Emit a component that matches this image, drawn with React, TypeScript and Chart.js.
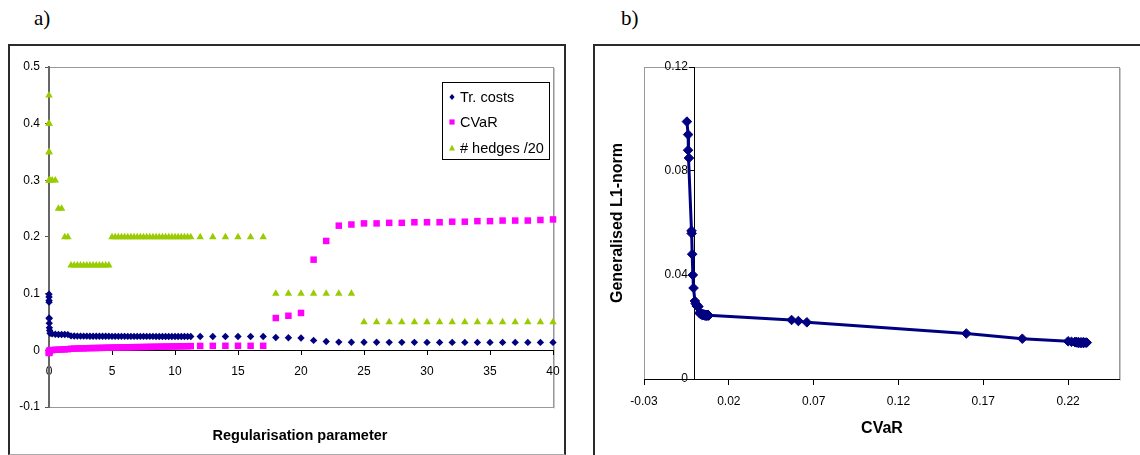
import React, { useEffect, useRef } from "react";
import { Chart, registerables } from "chart.js";
Chart.register(...registerables);

const FONT = "'Liberation Sans', Arial, sans-serif";

// Regularisation path (one entry per solved problem)
const regParam = [
  0, 0.002, 0.004, 0.006, 0.01, 0.015, 0.02, 0.03, 0.05, 0.08,
  0.25, 0.5, 0.75, 1, 1.25, 1.5,
  1.75, 2, 2.25, 2.5, 2.75, 3, 3.25, 3.5, 3.75, 4, 4.25, 4.5, 4.75,
  5, 5.25, 5.5, 5.75, 6, 6.25, 6.5, 6.75, 7, 7.25, 7.5, 7.75, 8, 8.25, 8.5, 8.75,
  9, 9.25, 9.5, 9.75, 10, 10.25, 10.5, 10.75, 11, 11.25,
  12, 13, 14, 15, 16, 17,
  18, 19, 20, 21, 22, 23, 24, 25, 26, 27, 28, 29, 30, 31, 32, 33, 34, 35, 36, 37, 38, 39, 40,
];

const trCosts = [
  0.099, 0.094, 0.088, 0.085, 0.057, 0.056, 0.048, 0.04, 0.035, 0.03,
  0.029, 0.0285, 0.028, 0.028, 0.028, 0.0278,
  0.0255, 0.0252, 0.0251, 0.025, 0.025, 0.025, 0.0249, 0.0249, 0.0249, 0.0248, 0.0248, 0.0248, 0.0248,
  0.0247, 0.0247, 0.0247, 0.0247, 0.0247, 0.0246, 0.0246, 0.0246, 0.0246, 0.0246, 0.0246, 0.0246, 0.0246,
  0.0246, 0.0245, 0.0245, 0.0245, 0.0245, 0.0245, 0.0245, 0.0245, 0.0245, 0.0245, 0.0245, 0.0245, 0.0245,
  0.0245, 0.0245, 0.0245, 0.0245, 0.0245, 0.0245,
  0.0227, 0.0223, 0.0218, 0.0175, 0.0155, 0.0145, 0.0143, 0.0142, 0.0142, 0.0141, 0.0141, 0.0141, 0.014,
  0.014, 0.014, 0.014, 0.014, 0.014, 0.014, 0.014, 0.014, 0.014, 0.014,
];

const cvar = [
  -0.0047, -0.004, -0.004, -0.0035, -0.002, -0.0019, -0.0016, -0.0012, -0.0008, 0.0,
  0.0005, 0.001, 0.0012, 0.0015, 0.0018, 0.002,
  0.0028, 0.003, 0.0032, 0.0034, 0.0035, 0.0037, 0.0039, 0.004, 0.0041, 0.0043, 0.0044, 0.0046, 0.0047,
  0.0049, 0.005, 0.0051, 0.0052, 0.0053, 0.0054, 0.0055, 0.0056, 0.0057, 0.0058, 0.0059, 0.006, 0.0061,
  0.0062, 0.0063, 0.0064, 0.0065, 0.0066, 0.0067, 0.0068, 0.0069, 0.007, 0.0071, 0.0072, 0.0073, 0.0074,
  0.0078, 0.0079, 0.008, 0.008, 0.008, 0.008,
  0.057, 0.061, 0.066, 0.16, 0.193, 0.22, 0.222, 0.224, 0.224, 0.225, 0.225, 0.226, 0.226,
  0.226, 0.227, 0.227, 0.228, 0.228, 0.229, 0.229, 0.229, 0.23, 0.231,
];

const hedges20 = [
  0.45, 0.4, 0.4, 0.35, 0.35, 0.3, 0.3, 0.3, 0.3, 0.3,
  0.3, 0.3, 0.25, 0.25, 0.2, 0.2,
  0.15, 0.15, 0.15, 0.15, 0.15, 0.15, 0.15, 0.15, 0.15, 0.15, 0.15, 0.15, 0.15,
  0.2, 0.2, 0.2, 0.2, 0.2, 0.2, 0.2, 0.2, 0.2, 0.2, 0.2, 0.2, 0.2,
  0.2, 0.2, 0.2, 0.2, 0.2, 0.2, 0.2, 0.2, 0.2, 0.2, 0.2, 0.2, 0.2,
  0.2, 0.2, 0.2, 0.2, 0.2, 0.2,
  0.1, 0.1, 0.1, 0.1, 0.1, 0.1, 0.1, 0.05, 0.05, 0.05, 0.05, 0.05, 0.05,
  0.05, 0.05, 0.05, 0.05, 0.05, 0.05, 0.05, 0.05, 0.05, 0.05,
];

const seriesNames = ["Tr. costs", "CVaR", "# hedges /20"];
const aXTicks = [0, 5, 10, 15, 20, 25, 30, 35, 40];
const aYTicks = [-0.1, 0, 0.1, 0.2, 0.3, 0.4, 0.5];
const bXTicks = [-0.03, 0.02, 0.07, 0.12, 0.17, 0.22];
const bYTicks = [0, 0.04, 0.08, 0.12];

const NAVY = "#000080";
const PINK = "#FF00FF";
const GREEN = "#99CC00";

function drawMarker(ctx: CanvasRenderingContext2D, style: string, x: number, y: number, r: number) {
  ctx.beginPath();
  if (style === "rectRot") {
    ctx.moveTo(x, y - r * 1.15);
    ctx.lineTo(x + r, y);
    ctx.lineTo(x, y + r * 1.15);
    ctx.lineTo(x - r, y);
    ctx.closePath();
  } else if (style === "rect") {
    ctx.rect(x - r, y - r, 2 * r, 2 * r);
  } else {
    ctx.moveTo(x, y - r);
    ctx.lineTo(x + r * 0.95, y + r * 0.75);
    ctx.lineTo(x - r * 0.95, y + r * 0.75);
    ctx.closePath();
  }
  ctx.fill();
}

const framePlugin = {
  id: "frame",
  beforeDraw(chart: any, _a: any, opts: any) {
    const { ctx, chartArea } = chart;
    const { left, top, right, bottom } = chartArea;
    ctx.save();
    ctx.strokeStyle = opts.color || "#999";
    ctx.lineWidth = 1;
    ctx.strokeRect(Math.round(left) + 0.5, Math.round(top) + 0.5, Math.round(right - left), Math.round(bottom - top));
    ctx.strokeStyle = "#c8c8c8";
    ctx.beginPath();
    ctx.moveTo(Math.round(right) + 1.5, Math.round(top) + 1);
    ctx.lineTo(Math.round(right) + 1.5, Math.round(bottom) + 1.5);
    ctx.stroke();
    ctx.restore();
  },
};

// Tick labels for a y axis that crosses the chart area at x = value
const crossLabelsPlugin = {
  id: "crossLabels",
  afterDraw(chart: any, _a: any, opts: any) {
    if (!opts || !opts.show) return;
    const { ctx } = chart;
    const ys = chart.scales.y;
    const xPix = chart.scales.x.getPixelForValue(opts.at);
    ctx.save();
    ctx.font = `12px ${FONT}`;
    ctx.fillStyle = "#000";
    ctx.textAlign = "right";
    ctx.textBaseline = "middle";
    ys.ticks.forEach((t: any) => {
      ctx.fillText(String(t.value), xPix - opts.gap, ys.getPixelForValue(t.value));
    });
    ctx.restore();
  },
};

const legendBoxPlugin = {
  id: "legendBox",
  afterDatasetsDraw(chart: any, _a: any, opts: any) {
    if (!opts || !opts.show) return;
    const { ctx, chartArea } = chart;
    const w = 107, h = 77;
    const left = Math.round(chartArea.right - 4 - w);
    const top = Math.round(chartArea.top + 15);
    ctx.save();
    ctx.fillStyle = "#fff";
    ctx.fillRect(left, top, w, h);
    ctx.strokeStyle = "#000";
    ctx.lineWidth = 1;
    ctx.strokeRect(left + 0.5, top + 0.5, w, h);
    ctx.font = `14.5px ${FONT}`;
    ctx.textBaseline = "middle";
    const rows = [15, 40, 66];
    const sizes = [2.6, 2.6, 3.2];
    chart.data.datasets.forEach((ds: any, i: number) => {
      const y = top + rows[i];
      ctx.fillStyle = ds.backgroundColor;
      drawMarker(ctx, ds.pointStyle, left + 10, y, sizes[i]);
      ctx.fillStyle = "#000";
      ctx.fillText(ds.label, left + 18, y + 1);
    });
    ctx.restore();
  },
};

function tickSetter(values: number[]) {
  return (scale: any) => {
    scale.ticks = values.map((v) => ({ value: v }));
  };
}

export default function App() {
  const aRef = useRef<HTMLCanvasElement | null>(null);
  const bRef = useRef<HTMLCanvasElement | null>(null);

  useEffect(() => {
    Chart.defaults.font.family = FONT;
    const tickFont = { family: FONT, size: 12 };

    const chartA = new Chart(aRef.current as HTMLCanvasElement, {
      type: "scatter",
      data: {
        datasets: [
          {
            label: seriesNames[0],
            data: regParam.map((x, i) => ({ x, y: trCosts[i] })),
            backgroundColor: NAVY,
            borderColor: NAVY,
            borderWidth: 0,
            pointStyle: "rectRot",
            pointRadius: 3.7,
            clip: false,
            order: 3,
          },
          {
            label: seriesNames[1],
            data: regParam.map((x, i) => ({ x, y: cvar[i] })),
            backgroundColor: PINK,
            borderColor: PINK,
            borderWidth: 0,
            pointStyle: "rect",
            pointRadius: 4.6,
            clip: false,
            order: 2,
          },
          {
            label: seriesNames[2],
            data: regParam.map((x, i) => ({ x, y: hedges20[i] })),
            backgroundColor: GREEN,
            borderColor: GREEN,
            borderWidth: 0,
            pointStyle: "triangle",
            pointRadius: 4.3,
            clip: false,
            order: 1,
          },
        ] as any,
      },
      options: {
        animation: false,
        responsive: false,
        events: [],
        layout: { padding: { left: 0, top: 67, right: 27, bottom: 48 } },
        plugins: {
          legend: { display: false },
          tooltip: { enabled: false },
          frame: { color: "#999" },
          legendBox: { show: true },
          crossLabels: { show: false },
        } as any,
        scales: {
          x: {
            type: "linear",
            min: 0,
            max: 40,
            position: { y: 0 } as any,
            afterFit: (s: any) => {
              s.height = 0;
            },
            afterBuildTicks: tickSetter(aXTicks),
            ticks: { font: tickFont, color: "#000", padding: 10, autoSkip: false, maxRotation: 0, callback: (v: any) => String(v) },
            grid: { drawOnChartArea: false, drawTicks: true, tickLength: 4, color: "#000" },
            border: { display: true, color: "#000", width: 1 },
          },
          y: {
            type: "linear",
            min: -0.1,
            max: 0.5,
            position: "left",
            afterFit: (s: any) => {
              s.width = 49;
            },
            afterBuildTicks: tickSetter(aYTicks),
            ticks: { font: tickFont, color: "#000", padding: 5, autoSkip: false, crossAlign: "near", callback: (v: any) => String(v) },
            grid: { drawOnChartArea: false, drawTicks: true, tickLength: 4, color: "#555" },
            border: { display: true, color: "#666", width: 2 },
          },
        } as any,
      },
      plugins: [framePlugin, legendBoxPlugin, crossLabelsPlugin],
    });

    const chartB = new Chart(bRef.current as HTMLCanvasElement, {
      type: "scatter",
      data: {
        datasets: [
          {
            label: "Generalised L1-norm",
            data: cvar.map((c, i) => ({ x: c, y: trCosts[i] })),
            showLine: true,
            borderColor: NAVY,
            backgroundColor: NAVY,
            borderWidth: 3,
            pointStyle: "rectRot",
            pointRadius: 4.8,
            pointBorderWidth: 1,
            pointBorderColor: NAVY,
            pointBackgroundColor: NAVY,
            tension: 0,
            clip: false,
          },
        ] as any,
      },
      options: {
        animation: false,
        responsive: false,
        events: [],
        layout: { padding: { left: 64, top: 67, right: 21, bottom: 76 } },
        plugins: {
          legend: { display: false },
          tooltip: { enabled: false },
          frame: { color: "#999" },
          legendBox: { show: false },
          crossLabels: { show: true, at: 0, gap: 7 },
        } as any,
        scales: {
          x: {
            type: "linear",
            min: -0.03,
            max: 0.25,
            position: { y: 0 } as any,
            afterFit: (s: any) => {
              s.height = 0;
            },
            afterBuildTicks: tickSetter(bXTicks),
            ticks: { font: tickFont, color: "#000", padding: 10, autoSkip: false, maxRotation: 0, callback: (v: any) => String(v) },
            grid: { drawOnChartArea: false, drawTicks: true, tickLength: 5, color: "#000" },
            border: { display: true, color: "#000", width: 1 },
          },
          y: {
            type: "linear",
            min: 0,
            max: 0.12,
            position: { x: 0 } as any,
            afterFit: (s: any) => {
              s.width = 0;
            },
            afterBuildTicks: tickSetter(bYTicks),
            ticks: { display: false },
            grid: { drawOnChartArea: false, drawTicks: true, tickLength: 5, color: "#000" },
            border: { display: true, color: "#000", width: 1 },
          },
        } as any,
      },
      plugins: [framePlugin, crossLabelsPlugin],
    });

    return () => {
      chartA.destroy();
      chartB.destroy();
    };
  }, []);

  const abs: React.CSSProperties = { position: "absolute" };
  return (
    <div style={{ ...abs, left: 0, top: 0, width: 1140, height: 455, background: "#fff", overflow: "hidden" }}>
      <div style={{ ...abs, left: 34, top: 8, font: "21px 'Liberation Serif', 'Times New Roman', serif", lineHeight: "21px" }}>a)</div>
      <div style={{ ...abs, left: 621, top: 8, font: "21px 'Liberation Serif', 'Times New Roman', serif", lineHeight: "21px" }}>b)</div>
      <div style={{ ...abs, left: 8, top: 44, width: 558, height: 411, border: "2px solid #2b2b2b", borderBottomColor: "#aaa", borderBottomWidth: 1, boxSizing: "border-box" }} />
      <div style={{ ...abs, left: 593, top: 44, width: 600, height: 500, border: "2px solid #2b2b2b", boxSizing: "border-box" }} />
      <canvas ref={aRef} width={580} height={455} style={{ ...abs, left: 0, top: 0 }} />
      <canvas ref={bRef} width={560} height={455} style={{ ...abs, left: 580, top: 0 }} />
      <div style={{ ...abs, left: 100, top: 428, width: 400, textAlign: "center", font: `bold 14.5px ${FONT}`, lineHeight: "15px", color: "#000" }}>
        Regularisation parameter
      </div>
      <div style={{ ...abs, left: 782, top: 420, width: 200, textAlign: "center", font: `bold 16px ${FONT}`, lineHeight: "16px", color: "#000" }}>
        CVaR
      </div>
      <div
        style={{
          ...abs,
          left: 617 - 110,
          top: 223 - 8,
          width: 220,
          height: 16,
          textAlign: "center",
          font: `bold 16px ${FONT}`,
          lineHeight: "16px",
          color: "#000",
          transform: "rotate(-90deg)",
          transformOrigin: "50% 50%",
          whiteSpace: "nowrap",
        }}
      >
        Generalised L1-norm
      </div>
    </div>
  );
}
